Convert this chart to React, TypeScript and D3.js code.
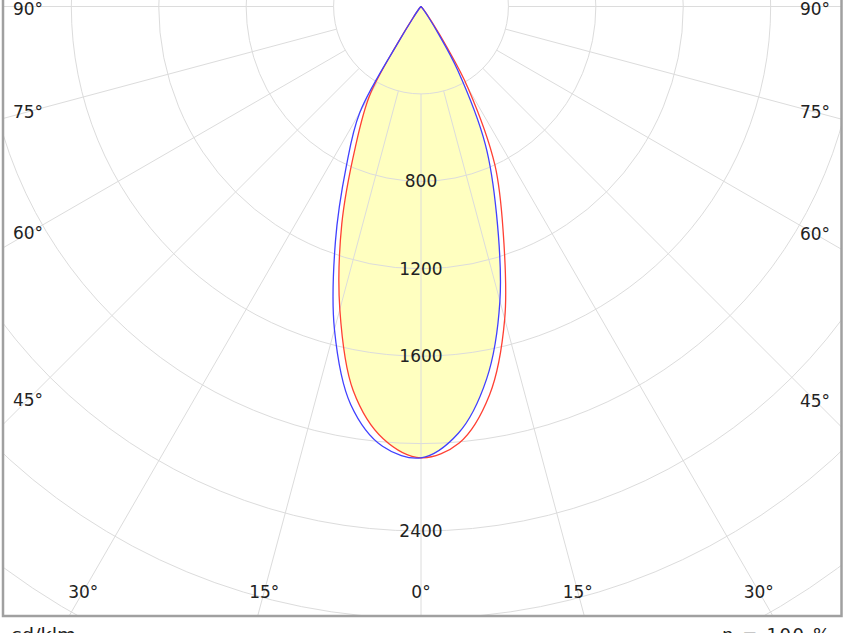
import React from "react";
import * as d3 from "d3";

// Luminous intensity (cd/klm) vs gamma angle (deg, negative = left side)
const gammaDeg = [-90, -45, -40, -35, -32.5, -30, -25, -20, -15, -10, -5, 0, 5, 10, 15, 20, 25, 30, 32.5, 35, 40, 45, 90];
const redCd = [0, 0, 15, 70, 200, 470, 712, 1060, 1435, 1785, 1985, 2065, 2005, 1805, 1480, 1100, 800, 430, 220, 90, 20, 0, 0];
const blueCd = [0, 0, 15, 60, 180, 560, 810, 1145, 1530, 1850, 2020, 2065, 1960, 1730, 1395, 1010, 697, 333, 150, 60, 10, 0, 0];

const ringValues = [400, 800, 1200, 1600, 2000, 2400, 2800, 3200, 3600, 4000];
const ringLabels = [800, 1200, 1600, 2400];
const spokeAngles = [-90, -75, -60, -45, -30, -15, 0, 15, 30, 45, 60, 75, 90];
const angleLabels = [-90, -75, -60, -45, -30, -15, 0, 15, 30, 45, 60, 75, 90];
const unitLabel = "cd/klm";
const effLabel = "η = 100 %";

const W = 844;
const H = 633;
const cx = 421;
const cy = 6.5;
const frame = { x0: 3, x1: 841.5, y0: -20, y1: 616 };
const FONT = "DejaVu Sans, Verdana, sans-serif";

export default function App() {
  const r = d3.scaleLinear().domain([0, 2400]).range([0, 524.5]);
  const toAngle = (g: number) => Math.PI - (g * Math.PI) / 180;

  const line = d3
    .lineRadial<number>()
    .angle((_, i) => toAngle(gammaDeg[i]))
    .radius((d) => r(d))
    .curve(d3.curveCatmullRom.alpha(0.5));

  const minCd = redCd.map((v, i) => Math.min(v, blueCd[i]));
  const rInner = r(400);
  const rOuter = r(4200);

  const pt = (g: number, rad: number) => {
    const a = (g * Math.PI) / 180;
    return [cx + Math.sin(a) * rad, cy + Math.cos(a) * rad];
  };

  const labelPos = (g: number) => {
    const a = (g * Math.PI) / 180;
    const s = Math.sin(a);
    const c = Math.cos(a);
    const left = 28;
    const right = 815;
    const bottom = 591.5;
    let t = Infinity;
    if (s < -1e-6) t = Math.min(t, (cx - left) / -s);
    if (s > 1e-6) t = Math.min(t, (right - cx) / s);
    if (c > 1e-6) t = Math.min(t, (bottom - cy) / c);
    const x = cx + s * t;
    const y = Math.max(cy + c * t, 8.5);
    return [x, y];
  };

  return (
    <svg
      width={W}
      height={H}
      style={{ position: "absolute", left: 0, top: 0, background: "#fff" }}
    >
      <defs>
        <clipPath id="plotClip">
          <rect x={frame.x0} y={frame.y0} width={frame.x1 - frame.x0} height={frame.y1 - frame.y0} />
        </clipPath>
      </defs>
      <g clipPath="url(#plotClip)">
        <g transform={`translate(${cx},${cy})`}>
          <path d={line(minCd) ?? ""} fill="#ffffc0" stroke="none" />
        </g>
        {ringValues.map((v) => (
          <circle key={v} cx={cx} cy={cy} r={r(v)} fill="none" stroke="#dcdcdc" strokeWidth={1} />
        ))}
        {spokeAngles.map((g) => {
          const [x1, y1] = pt(g, rInner);
          const [x2, y2] = pt(g, rOuter);
          return <line key={g} x1={x1} y1={y1} x2={x2} y2={y2} stroke="#dcdcdc" strokeWidth={1} />;
        })}
        <g transform={`translate(${cx},${cy})`}>
          <path d={line(redCd) ?? ""} fill="none" stroke="#ff4033" strokeWidth={1.3} />
          <path d={line(blueCd) ?? ""} fill="none" stroke="#4040ff" strokeWidth={1.3} />
        </g>
      </g>
      <rect
        x={frame.x0}
        y={frame.y0}
        width={frame.x1 - frame.x0}
        height={frame.y1 - frame.y0}
        fill="none"
        stroke="#a0a0a0"
        strokeWidth={2.5}
      />
      {ringLabels.map((v) => (
        <text
          key={v}
          x={cx}
          y={cy + r(v)}
          textAnchor="middle"
          dominantBaseline="central"
          fontFamily={FONT}
          fontSize={17}
          fill="#222"
        >
          {v}
        </text>
      ))}
      {angleLabels.map((g) => {
        const [x, y] = labelPos(g);
        return (
          <text
            key={g}
            x={x}
            y={y}
            textAnchor="middle"
            dominantBaseline="central"
            fontFamily={FONT}
            fontSize={17}
            fill="#222"
          >
            {`${Math.abs(g)}°`}
          </text>
        );
      })}
      <text x={11} y={641} fontFamily={FONT} fontSize={18} fill="#222" textLength={65} lengthAdjust="spacingAndGlyphs">
        {unitLabel}
      </text>
      <text x={722} y={641} fontFamily={FONT} fontSize={18} fill="#222" textLength={108} lengthAdjust="spacing">
        {effLabel}
      </text>
    </svg>
  );
}
